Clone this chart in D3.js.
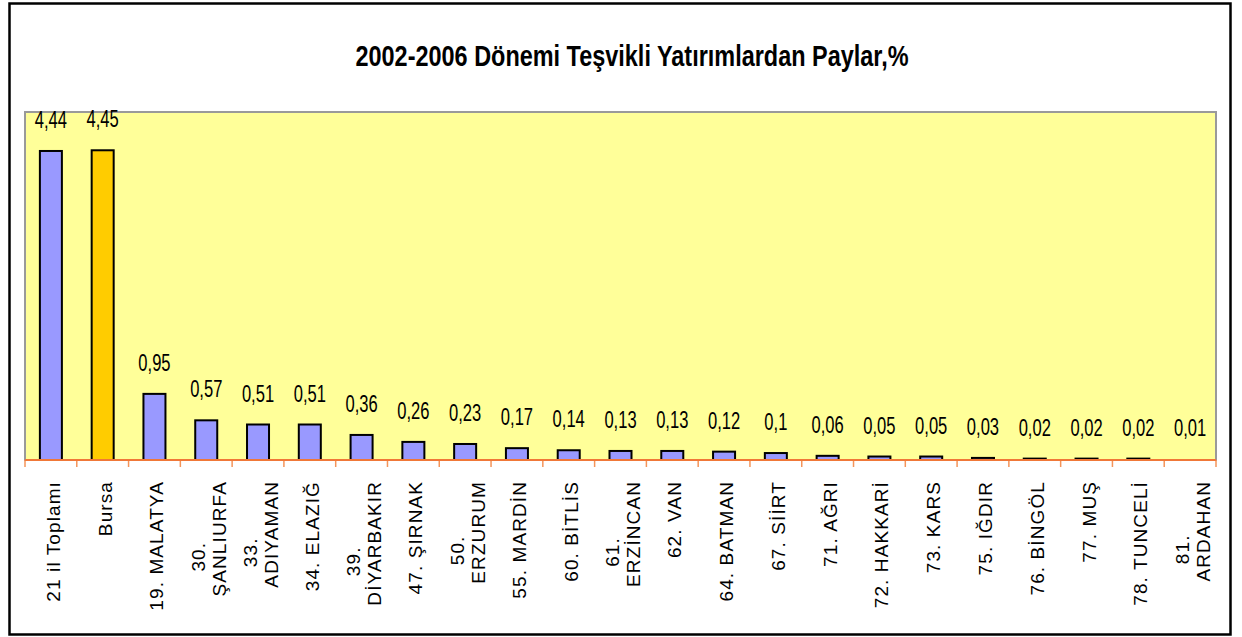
<!DOCTYPE html>
<html>
<head>
<meta charset="utf-8">
<script src="https://cdn.jsdelivr.net/npm/d3@7"></script>
<style>
  html, body { margin: 0; padding: 0; background: #fff; }
  svg { display: block; }
  text { font-family: "Liberation Sans", Arial, sans-serif; fill: #000; }
</style>
</head>
<body>
<svg id="chart" width="1242" height="637"></svg>
<script>
// ---- data ----
const title = "2002-2006 Dönemi Teşvikli Yatırımlardan Paylar,%";
const categories = [
  "21 il Toplamı", "Bursa", "19. MALATYA", "30.\nŞANLIURFA", "33.\nADIYAMAN",
  "34. ELAZIĞ", "39.\nDİYARBAKIR", "47. ŞIRNAK", "50.\nERZURUM", "55. MARDİN",
  "60. BİTLİS", "61.\nERZİNCAN", "62. VAN", "64. BATMAN", "67. SİİRT",
  "71. AĞRI", "72. HAKKARİ", "73. KARS", "75. IĞDIR", "76. BİNGÖL",
  "77. MUŞ", "78. TUNCELİ", "81.\nARDAHAN"
];
const values = [4.44, 4.45, 0.95, 0.57, 0.51, 0.51, 0.36, 0.26, 0.23, 0.17,
  0.14, 0.13, 0.13, 0.12, 0.1, 0.06, 0.05, 0.05, 0.03, 0.02, 0.02, 0.02, 0.01];
const valueLabels = ["4,44", "4,45", "0,95", "0,57", "0,51", "0,51", "0,36", "0,26", "0,23", "0,17",
  "0,14", "0,13", "0,13", "0,12", "0,1", "0,06", "0,05", "0,05", "0,03", "0,02", "0,02", "0,02", "0,01"];
const highlighted = ["Bursa"];
const yDomain = [0, 5];

// ---- layout ----
const plot = { left: 25, right: 1216, top: 112, bottom: 460 };
const colors = { bg: "#FFFF99", bar: "#9999FF", highlight: "#FFCC00", axis: "#F07838", tick: "#F4945A", plotBorder: "#9a9a9a" };

const svg = d3.select("#chart");
const data = categories.map((c, i) => ({ cat: c, value: values[i], label: valueLabels[i] }));

const x = d3.scaleBand().domain(categories).range([plot.left, plot.right])
  .paddingInner(0.575).paddingOuter(0.2875);
const y = d3.scaleLinear().domain(yDomain).range([plot.bottom, plot.top]);

// outer frame
svg.append("rect").attr("x", 9.5).attr("y", 3.5).attr("width", 1221).attr("height", 631)
  .attr("fill", "#fff").attr("stroke", "#000").attr("stroke-width", 2.5);

// title
svg.append("text").attr("x", 632).attr("y", 66).attr("text-anchor", "middle")
  .attr("font-size", 30).attr("font-weight", "bold")
  .attr("textLength", 553).attr("lengthAdjust", "spacingAndGlyphs")
  .text(title);

// plot area
svg.append("rect").attr("x", plot.left).attr("y", plot.top)
  .attr("width", plot.right - plot.left).attr("height", plot.bottom - plot.top)
  .attr("fill", colors.bg).attr("stroke", colors.plotBorder).attr("stroke-width", 2);

// bars
svg.append("g").selectAll("rect").data(data).join("rect")
  .attr("x", d => x(d.cat))
  .attr("y", d => y(d.value))
  .attr("width", x.bandwidth())
  .attr("height", d => y(0) - y(d.value))
  .attr("fill", d => highlighted.includes(d.cat) ? colors.highlight : colors.bar)
  .attr("stroke", d => (y(0) - y(d.value)) < 1 ? "none" : "#000")
  .attr("stroke-width", 2);

// value labels
svg.append("g").selectAll("text").data(data).join("text")
  .attr("transform", d => `translate(${x(d.cat) + x.bandwidth() / 2},${y(d.value) - 23}) scale(0.72,1)`)
  .attr("text-anchor", "middle")
  .attr("font-size", 23)
  .text(d => d.label);

// x axis line + ticks
const step = x.step();
const tickPos = d3.range(categories.length + 1).map(i => plot.left + i * step);
svg.append("g").selectAll("line").data(tickPos).join("line")
  .attr("x1", d => d).attr("x2", d => d)
  .attr("y1", plot.bottom).attr("y2", plot.bottom + 7)
  .attr("stroke", colors.tick).attr("stroke-width", 1.5);
svg.append("line").attr("x1", plot.left).attr("x2", plot.right)
  .attr("y1", plot.bottom).attr("y2", plot.bottom)
  .attr("stroke", colors.axis).attr("stroke-width", 2);

// category labels (rotated)
const labelTop = 481, lineGap = 21;
const lg = svg.append("g");
data.forEach(d => {
  const cx = x(d.cat) + x.bandwidth() / 2;
  const lines = d.cat.split("\n");
  const n = lines.length;
  lines.forEach((ln, i) => {
    const bx = cx + 9 + (i - (n - 1) / 2) * lineGap;
    const t = lg.append("text")
      .attr("font-size", 19)
      .attr("letter-spacing", 1.1)
      .text(ln);
    if (i === n - 1) {
      t.attr("text-anchor", "end")
        .attr("transform", `translate(${bx},${labelTop}) rotate(-90)`);
    } else {
      t.attr("text-anchor", "middle").attr("class", "pending")
        .attr("data-bx", bx);
    }
  });
  if (n > 1) {
    const lastNode = lg.selectAll("text").nodes().slice(-1)[0];
    const lastLen = lastNode.getComputedTextLength();
    const center = labelTop + lastLen / 2 + 18;
    lg.selectAll("text.pending").each(function () {
      const bx = +this.getAttribute("data-bx");
      d3.select(this).attr("transform", `translate(${bx},${center}) rotate(-90)`)
        .classed("pending", false);
    });
  }
});
</script>
</body>
</html>
